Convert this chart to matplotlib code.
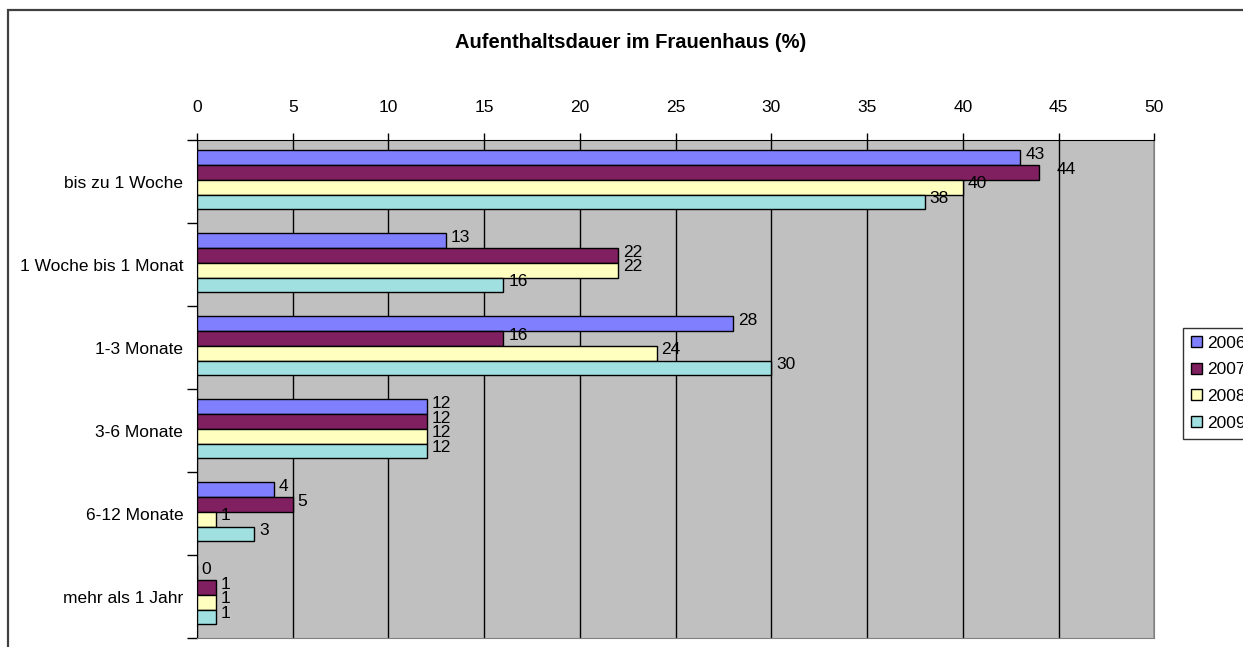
import numpy as np
import matplotlib.pyplot as plt
from matplotlib.patches import Rectangle

categories = ["bis zu 1 Woche", "1 Woche bis 1 Monat", "1-3 Monate",
              "3-6 Monate", "6-12 Monate", "mehr als 1 Jahr"]
years = ["2006", "2007", "2008", "2009"]
v2006 = [43, 13, 28, 12, 4, 0]
v2007 = [44, 22, 16, 12, 5, 1]
v2008 = [40, 22, 24, 12, 1, 1]
v2009 = [38, 16, 30, 12, 3, 1]
series = [v2006, v2007, v2008, v2009]
colors = ["#8080FF", "#802060", "#FFFFC0", "#A0E0E0"]

plt.rcParams["font.family"] = ["Liberation Sans", "DejaVu Sans"]
fs = 12.5

fig = plt.figure(figsize=(12.43, 6.47), dpi=100)
ax = fig.add_axes([0.1585, 0.0139, 0.7702, 0.7697])
ax.set_facecolor("#C0C0C0")

n = len(categories)
bar_h = 0.178
y_base = np.arange(n)
for i, (vals, c) in enumerate(zip(series, colors)):
    y = y_base - 1.5 * bar_h + i * bar_h - 0.02
    ax.barh(y, vals, height=bar_h, color=c, edgecolor="black", linewidth=1, zorder=3)
    for yy, v in zip(y, vals):
        dx = 0.9 if v == 44 else 0.25
        ax.text(v + dx, yy - 0.04, str(v), va="center", ha="left", fontsize=fs, zorder=4)

ax.set_xlim(0, 50)
ax.set_ylim(n - 0.5, -0.5)
ax.set_xticks(range(0, 51, 5))
ax.xaxis.tick_top()
ax.tick_params(axis="x", length=5, width=1, pad=13, top=True, bottom=False, labelsize=fs)
ax.grid(axis="x", color="black", linewidth=1, zorder=1)
ax.set_axisbelow(True)

ax.set_yticks(np.arange(-0.5, n, 1.0), minor=False)
ax.set_yticklabels([])
ax.tick_params(axis="y", length=7, width=1)
ax.set_yticks(y_base, minor=True)
ax.set_yticklabels(categories, minor=True)
ax.tick_params(axis="y", which="minor", length=0, pad=10, labelsize=fs)

for s in ["right", "bottom"]:
    ax.spines[s].set_color("#808080")
for s in ["left", "top"]:
    ax.spines[s].set_color("black")

fig.text(0.507, 0.934, "Aufenthaltsdauer im Frauenhaus (%)", ha="center", va="center",
         fontsize=14.5, fontweight="bold")

handles = [Rectangle((0, 0), 1, 1, facecolor=c, edgecolor="black", linewidth=1) for c in colors]
leg = fig.legend(handles, years, loc="upper left", bbox_to_anchor=(0.952, 0.493),
                 frameon=True, fancybox=False, edgecolor="black", handlelength=0.6,
                 handleheight=0.6, handletextpad=0.3, labelspacing=0.67,
                 borderpad=0.45, fontsize=fs, borderaxespad=0)
leg.get_frame().set_linewidth(1)

fig.patches.append(Rectangle((0.0064, -0.2), 2, 1.1845, transform=fig.transFigure,
                             fill=False, edgecolor="#404040", linewidth=1.6))

fig.savefig("out.png", dpi=100)
